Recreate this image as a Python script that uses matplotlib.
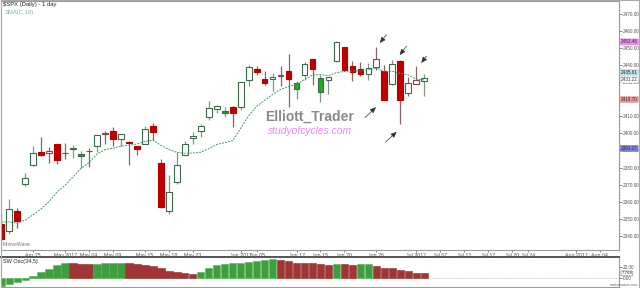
import numpy as np
import matplotlib.pyplot as plt
from matplotlib.lines import Line2D
from matplotlib.transforms import blended_transform_factory

# S&P 500 daily bars, Apr 19 - Jul 5 2017
dates = ["2017-04-19", "2017-04-20", "2017-04-21", "2017-04-24", "2017-04-25", "2017-04-26",
         "2017-04-27", "2017-04-28", "2017-05-01", "2017-05-02", "2017-05-03", "2017-05-04",
         "2017-05-05", "2017-05-08", "2017-05-09", "2017-05-10", "2017-05-11", "2017-05-12",
         "2017-05-15", "2017-05-16", "2017-05-17", "2017-05-18", "2017-05-19", "2017-05-22",
         "2017-05-23", "2017-05-24", "2017-05-25", "2017-05-26", "2017-05-30", "2017-05-31",
         "2017-06-01", "2017-06-02", "2017-06-05", "2017-06-06", "2017-06-07", "2017-06-08",
         "2017-06-09", "2017-06-12", "2017-06-13", "2017-06-14", "2017-06-15", "2017-06-16",
         "2017-06-19", "2017-06-20", "2017-06-21", "2017-06-22", "2017-06-23", "2017-06-26",
         "2017-06-27", "2017-06-28", "2017-06-29", "2017-06-30", "2017-07-03", "2017-07-05"]
opens = [2346.79, 2342.69, 2354.74, 2370.33, 2381.51, 2388.98, 2389.70, 2393.68, 2388.50, 2391.05,
         2386.50, 2389.79, 2392.37, 2399.94, 2401.58, 2396.79, 2394.84, 2392.44, 2393.98, 2404.55,
         2382.95, 2354.69, 2371.37, 2387.21, 2397.04, 2401.41, 2409.54, 2414.50, 2411.67, 2415.63,
         2415.65, 2431.28, 2437.83, 2431.92, 2432.03, 2434.27, 2436.39, 2425.88, 2434.15, 2443.75,
         2424.14, 2431.24, 2442.55, 2450.66, 2439.31, 2437.40, 2434.65, 2443.32, 2436.34, 2428.70,
         2442.38, 2429.20, 2431.39, 2430.78]
highs = [2352.63, 2361.37, 2356.18, 2376.98, 2392.48, 2398.16, 2392.10, 2393.68, 2394.49, 2392.93,
         2389.82, 2391.43, 2399.29, 2401.36, 2403.87, 2399.74, 2395.72, 2392.44, 2404.05, 2405.77,
         2384.87, 2375.74, 2389.06, 2395.46, 2400.85, 2405.58, 2418.71, 2416.68, 2415.26, 2415.99,
         2430.06, 2440.23, 2439.55, 2436.21, 2435.28, 2439.27, 2446.20, 2430.38, 2441.49, 2443.75,
         2433.95, 2433.15, 2453.82, 2450.66, 2442.23, 2441.62, 2441.40, 2450.42, 2440.15, 2442.97,
         2442.73, 2432.71, 2439.17, 2434.90]
lows = [2335.05, 2340.91, 2344.51, 2369.19, 2381.15, 2386.78, 2382.68, 2382.36, 2384.83, 2385.82,
        2379.75, 2380.35, 2389.38, 2393.92, 2392.44, 2392.79, 2381.74, 2387.19, 2393.94, 2396.05,
        2356.21, 2352.72, 2370.43, 2386.92, 2393.88, 2397.99, 2408.01, 2412.20, 2409.43, 2403.59,
        2413.54, 2427.71, 2434.32, 2428.12, 2424.75, 2427.94, 2415.70, 2419.97, 2431.28, 2428.34,
        2418.53, 2422.88, 2441.79, 2436.60, 2430.74, 2433.27, 2431.11, 2437.03, 2419.38, 2428.02,
        2405.70, 2421.65, 2428.69, 2422.05]
closes = [2338.17, 2355.84, 2348.69, 2374.15, 2388.61, 2387.45, 2388.77, 2384.20, 2388.33, 2391.17,
          2388.13, 2389.52, 2399.29, 2399.38, 2396.92, 2399.63, 2394.44, 2390.90, 2402.32, 2400.67,
          2357.03, 2365.72, 2381.73, 2394.02, 2398.42, 2404.39, 2415.07, 2415.82, 2412.91, 2411.80,
          2430.06, 2439.07, 2436.10, 2429.33, 2433.14, 2433.79, 2431.77, 2429.39, 2440.35, 2437.92,
          2432.46, 2433.15, 2453.46, 2437.03, 2435.61, 2434.50, 2438.30, 2439.07, 2419.38, 2440.69,
          2419.70, 2423.41, 2429.01, 2432.54]
# closes before the first visible bar, for the 10-day average
prior_closes = [2352.95, 2357.49, 2355.54, 2357.16, 2353.78, 2344.93, 2328.95, 2349.01, 2342.19]

# SW Osc(34,5)
osc = [-14.5, -12.1, -8.5, -4.2, 3.0, 10.3, 16.4, 23.0, 26.0, 25.8, 24.2, 24.0, 24.8, 26.0,
       26.7, 27.3, 26.7, 24.8, 23.0, 21.8, 17.0, 12.7, 10.3, 7.9, 6.1, 10.3, 17.6, 22.4,
       24.8, 26.0, 27.3, 28.5, 30.9, 32.1, 33.3, 32.7, 30.3, 26.7, 26.0, 25.8, 24.8, 22.4,
       24.8, 24.2, 23.0, 24.2, 24.3, 21.8, 18.2, 17.0, 13.9, 11.5, 9.1, 7.768]

future_days = ["2017-07-06", "2017-07-07", "2017-07-10", "2017-07-11", "2017-07-12", "2017-07-13",
               "2017-07-14", "2017-07-17", "2017-07-18", "2017-07-19", "2017-07-20", "2017-07-21",
               "2017-07-24", "2017-07-25", "2017-07-26", "2017-07-27", "2017-07-28", "2017-07-31",
               "2017-08-01", "2017-08-02", "2017-08-03", "2017-08-04"]
tick_days = ["2017-04-25", "2017-05-01", "2017-05-04", "2017-05-09", "2017-05-15", "2017-05-18",
             "2017-05-23", "2017-06-01", "2017-06-05", "2017-06-12", "2017-06-15", "2017-06-20",
             "2017-06-26", "2017-07-03", "2017-07-07", "2017-07-12", "2017-07-17", "2017-07-20",
             "2017-07-24", "2017-08-01", "2017-08-04"]
tick_labels = ["Apr 25", "May 2017", "May 04", "May 09", "May 15", "May 18", "May 23", "Jun 2017",
               "Jun 05", "Jun 12", "Jun 15", "Jun 20", "Jun 26", "Jul 2017", "Jul 07", "Jul 12",
               "Jul 17", "Jul 20", "Jul 24", "Aug 2017", "Aug 04"]
month_days = ["2017-05-01", "2017-06-01", "2017-07-03", "2017-08-01"]

tag_prices = [2453.46, 2435.61, 2419.70, 2391.17]
tag_colors = ["#e58ee5", "#b9dbe8", "#e89a9a", "#7d7de6"]

all_days = dates + future_days
n = len(dates)
x = np.arange(n)
o, h, l, c = map(np.array, (opens, highs, lows, closes))
prev_c = np.concatenate([[prior_closes[-1]], c[:-1]])
sma = np.convolve(np.concatenate([prior_closes, c]), np.ones(10) / 10, mode="valid")

plt.rcParams["font.family"] = ["Liberation Sans", "DejaVu Sans"]
fig = plt.figure(figsize=(6.4, 2.88), dpi=100)
ax = fig.add_axes([1 / 640, 38 / 288, 618 / 640, 249 / 288])
ax2 = fig.add_axes([1 / 640, 1 / 288, 618 / 640, 30 / 288])
xlim = (-0.03, 77.4)

# candles: colour by close vs open, filled when close is below previous close
for i in range(n):
    up = c[i] >= o[i]
    filled = c[i] < prev_c[i]
    if up:
        edge, wick, face = "#3b6b48", "#7d9a86", ("#22aa22" if filled else "white")
    else:
        edge, wick, face = ("#b00000", "#8a6464", "#c00000") if filled else ("#8e4444", "#8a6464", "white")
    lo_b, hi_b = min(o[i], c[i]), max(o[i], c[i])
    ax.vlines(x[i], l[i], lo_b, color=wick, lw=0.9, zorder=2)
    ax.vlines(x[i], hi_b, h[i], color=wick, lw=0.9, zorder=2)
    ax.bar(x[i], max(hi_b - lo_b, 0.35), bottom=lo_b, width=0.72, color=face,
           edgecolor=edge, linewidth=0.8, zorder=3)

ax.plot(x, sma, color="#3d9a68", lw=0.7, ls=(0, (2, 1.2)), zorder=4)

ax.set_xlim(*xlim)
ax.set_ylim(2331.8, 2477.4)
ax.yaxis.tick_right()
ax.set_yticks(np.arange(2340, 2471, 10))
ax.set_yticklabels([f"{v:.2f}" for v in np.arange(2340, 2471, 10)])
ax.set_yticks(np.arange(2334, 2477, 2), minor=True)
ax.tick_params(axis="y", which="major", length=2.0, width=0.5, labelsize=3.4,
               colors="#555555", pad=0.8)
ax.tick_params(axis="y", which="minor", length=1.0, width=0.4, colors="#888888")
tick_idx = [all_days.index(d) for d in tick_days]
ax.set_xticks(tick_idx)
ax.set_xticklabels(tick_labels)
ax.tick_params(axis="x", length=1.5, width=0.5, labelsize=3.8, colors="#555555", pad=0.6)
for s in ax.spines.values():
    s.set_color("#9a9a9a")
    s.set_linewidth(0.8)

ax.text(0.004, 0.995, "$SPX (Daily) - 1 day", transform=ax.transAxes, fontsize=4.2,
        color="#222222", va="top", ha="left")
ax.text(0.006, 0.965, "SMA(C,10)", transform=ax.transAxes, fontsize=4.2,
        color="#7fb08f", va="top", ha="left")
ax.text(0.003, 0.012, "MotiveWave", transform=ax.transAxes, fontsize=3.6,
        color="#777777", va="bottom", ha="left")
ax.text(38.6, 2409.5, "Elliott_Trader", fontsize=10, color="#8a8a8a",
        fontweight="bold", ha="center", va="center", zorder=5)
ax.text(38.7, 2401.3, "studyofcycles.com", fontsize=7.4, color="#ee88ee",
        style="italic", ha="center", va="center", zorder=5)

# arrows marking the highs and lows
arrow_kw = dict(arrowstyle="-|>,head_length=0.35,head_width=0.15", color="#333333", lw=0.5)
ax.annotate("", xy=(47.2, 2451.6), xytext=(48.5, 2458.9), arrowprops=arrow_kw)
ax.annotate("", xy=(49.7, 2444.5), xytext=(51.0, 2452.3), arrowprops=arrow_kw)
ax.annotate("", xy=(52.4, 2439.9), xytext=(53.5, 2446.4), arrowprops=arrow_kw)
ax.annotate("", xy=(47.2, 2416.4), xytext=(45.3, 2408.0), arrowprops=arrow_kw)
ax.annotate("", xy=(49.8, 2402.0), xytext=(47.9, 2393.8), arrowprops=arrow_kw)

# price tags on the right axis
tr = blended_transform_factory(ax.transAxes, ax.transData)
for p, col in zip(tag_prices, tag_colors):
    ax.text(1.003, p, f"{p:.2f}", transform=tr, fontsize=3.3, color="#333333",
            va="center", ha="left", clip_on=False,
            bbox=dict(boxstyle="round,pad=0.12", fc=col, ec=col, lw=0.4))
ax.text(1.003, sma[-1], f"{sma[-1]:.2f}", transform=tr, fontsize=3.3, color="#333333",
        va="center", ha="left", clip_on=False,
        bbox=dict(boxstyle="round,pad=0.12", fc="white", ec="#777777", lw=0.4, ls=":"))

# oscillator panel
ocol = ["#3f9f3f" if i == 0 or osc[i] >= osc[i - 1] else "#a23636" for i in range(n)]
oedge = ["#56b456" if cc == "#3f9f3f" else "#8c2a2a" for cc in ocol]
ax2.axhline(0, color="#999999", lw=0.5, ls=":", zorder=1)
ax2.bar(x, osc, width=0.92, color=ocol, edgecolor=oedge, linewidth=0.4, zorder=2)
ax2.set_xlim(*xlim)
ax2.set_ylim(-16.9, 37.6)
ax2.set_xticks([])
ax2.yaxis.tick_right()
ax2.set_yticks([0, 20])
ax2.set_yticklabels(["0.00", "20.00"])
ax2.tick_params(axis="y", length=2, width=0.5, labelsize=3.4, colors="#555555", pad=1.0)
ax2.text(0.004, 0.93, "SW Osc(34,5)", transform=ax2.transAxes, fontsize=4.0,
         color="#222222", va="top", ha="left")
tr2 = blended_transform_factory(ax2.transAxes, ax2.transData)
ax2.text(1.004, osc[-1], f"{osc[-1]:.3f}", transform=tr2, fontsize=3.2, color="#333333",
         va="center", ha="left", clip_on=False,
         bbox=dict(boxstyle="round,pad=0.1", fc="white", ec="#777777", lw=0.4))
fig.text(0.998, 0.002, "motivewave.com", fontsize=2.8, color="#666666",
         va="bottom", ha="right")
for s in ax2.spines.values():
    s.set_color("#9a9a9a")
    s.set_linewidth(0.8)
ax2.spines["top"].set_color("#555555")
ax2.spines["top"].set_linewidth(1.4)

# month separators run through both panels
inv = fig.transFigure.inverted()
for d in month_days:
    fx = inv.transform(ax.transData.transform((all_days.index(d), 2400)))[0]
    fig.add_artist(Line2D([fx, fx], [1 / 288, 287 / 288], color="#aaaaaa", lw=0.6,
                          ls=(0, (1, 1.5)), zorder=0))

# outer frame
fig.add_artist(Line2D([0.0008, 0.9992, 0.9992, 0.0008, 0.0008], [0.0017, 0.0017, 0.9983, 0.9983, 0.0017],
                      color="#aaaaaa", lw=0.8))

fig.savefig("out.png", dpi=100)
